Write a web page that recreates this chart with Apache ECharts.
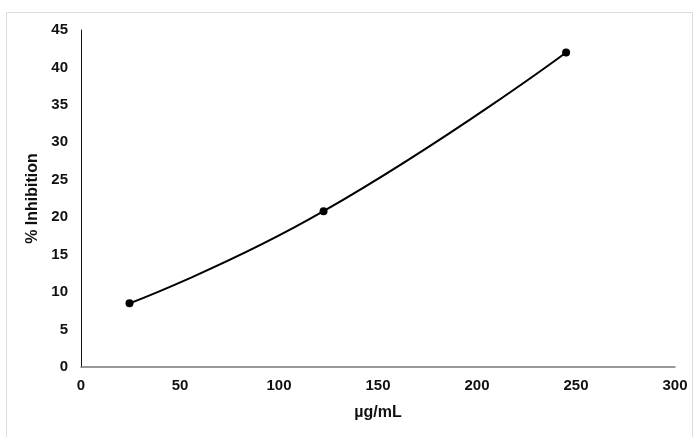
<!DOCTYPE html>
<html>
<head>
<meta charset="utf-8">
<script src="https://cdn.jsdelivr.net/npm/echarts@6/dist/echarts.min.js"></script>
<style>
  html, body { margin: 0; padding: 0; background: #fff; }
  #chart { width: 694px; height: 437px; }
</style>
</head>
<body>
<div id="chart"></div>
<script>
// data
var concentration = [24.5, 122.5, 245];
var inhibition = [8.5, 20.8, 42.0];
var xTicks = [0, 50, 100, 150, 200, 250, 300];
var yTicks = [0, 5, 10, 15, 20, 25, 30, 35, 40, 45];

var points = [];
for (var i = 0; i < concentration.length; i++) {
    points.push([concentration[i], inhibition[i]]);
}

var myChart = echarts.init(document.getElementById('chart'));
var option = {
    backgroundColor: '#fff',
    animation: false,
    textStyle: { fontFamily: 'Liberation Sans, Arial, sans-serif' },
    graphic: [{
        type: 'rect',
        shape: { x: 6.5, y: 12.5, width: 686, height: 440 },
        style: { fill: 'none', stroke: '#dcdcdc', lineWidth: 1 },
        silent: true
    }],
    grid: { left: 81, right: 19, top: 30, bottom: 70 },
    xAxis: {
        type: 'value',
        min: xTicks[0],
        max: xTicks[xTicks.length - 1],
        interval: 50,
        name: 'µg/mL',
        nameLocation: 'middle',
        nameGap: 38,
        nameTextStyle: { fontSize: 16, fontWeight: 'bold', color: '#111' },
        axisLine: { lineStyle: { color: '#777', width: 1.5 } },
        axisTick: { show: false },
        splitLine: { show: false },
        axisLabel: { fontSize: 15, fontWeight: 'bold', color: '#111', margin: 11 }
    },
    yAxis: {
        type: 'value',
        min: yTicks[0],
        max: yTicks[yTicks.length - 1],
        interval: 5,
        name: '% Inhibition',
        nameLocation: 'middle',
        nameGap: 32,
        nameTextStyle: { fontSize: 16, fontWeight: 'bold', color: '#111' },
        axisLine: { show: true, lineStyle: { color: '#111', width: 1 } },
        axisTick: { show: false },
        splitLine: { show: false },
        axisLabel: { fontSize: 15, fontWeight: 'bold', color: '#111', margin: 13 }
    },
    series: [{
        type: 'line',
        data: points,
        smooth: true,
        symbol: 'circle',
        symbolSize: 8,
        itemStyle: { color: '#000' },
        lineStyle: { color: '#000', width: 2 }
    }]
};
myChart.setOption(option);
</script>
</body>
</html>
